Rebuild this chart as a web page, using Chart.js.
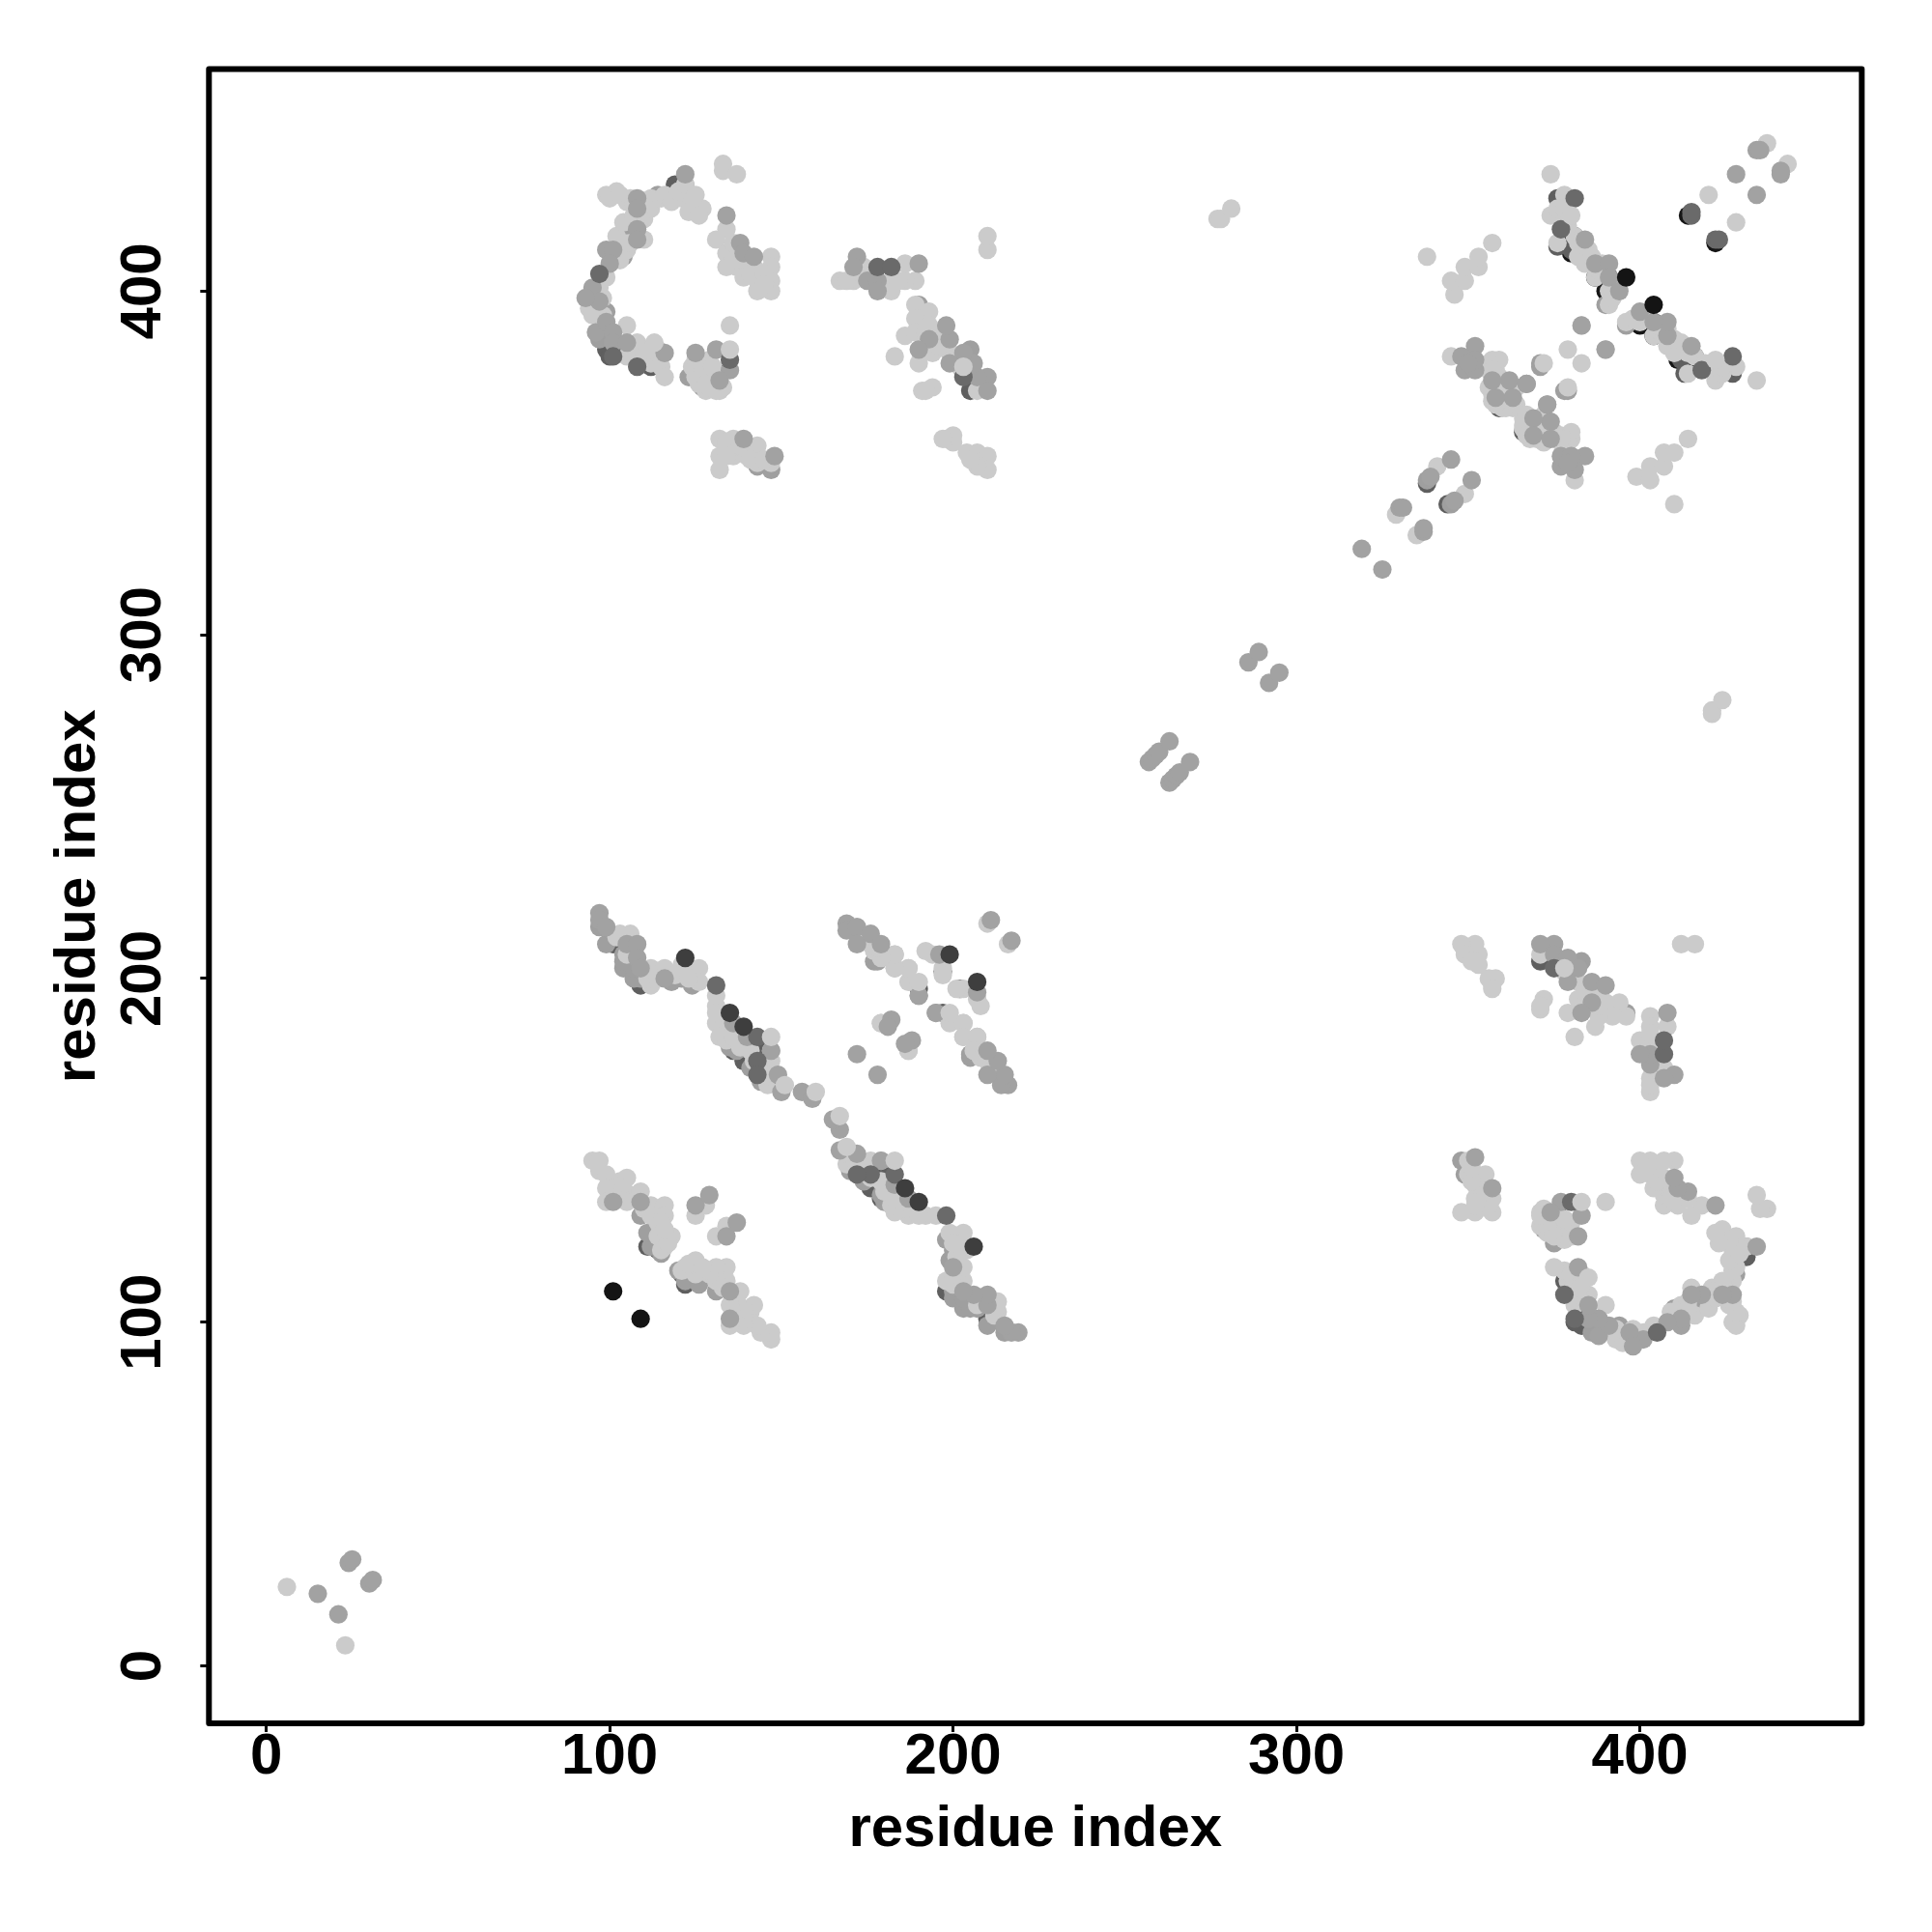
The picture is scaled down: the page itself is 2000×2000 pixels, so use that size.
<!DOCTYPE html>
<html>
<head>
<meta charset="utf-8">
<title>residue contact map</title>
<script src="https://cdn.jsdelivr.net/npm/chart.js@4"></script>
<style>
  html, body { margin: 0; padding: 0; background: #fff; }
  canvas { display: block; }
</style>
</head>
<body>
<canvas id="contactChart" width="2000" height="2000"></canvas>
<script>
const tickValues = [0, 100, 200, 300, 400];
const axisMin = -16.7;
const axisMax = 464.6;

const underBlack = [[380,415],[380,411],[387,408],[387,404],[391,404],[414,422],[390,400],[177,403]];
const underDark = [[376,427],[376,413],[380,412],[119,431],[99,383],[132,376],[137,355],[338,344],
  [361,368],[359,366],[358,372],[205,371],[197,202],[190,197],[109,198],[101,210],[139,176],[111,122],[114,121],[117,124],[381,416],[112,378],[112,381],
  [100,381],[104,383],[115,124],[136,179],[141,178],[138,182],[134,186],[143,180],[145,176]];
const underMid = [[122,431],[114,428],[125,376],[123,375],[124,376],[127,372],[143,349],[147,348],[338,345],[371,378],[379,371],
  [190,396],[195,190],[205,177],[143,350],[97,215],[99,210],[104,203],[109,200],[135,180],[121,200],[390,396],
  [178,205],[109,131],[112,122],[113,127],[115,120],[383,205],[104,207],[104,205],[107,200],[107,203],[113,201],[118,199],[124,198],
  [133,188],[137,179],[141,174],[144,170],[97,386],[99,394],[104,410],[106,416],[172,406],[111,126]];
const lightPts = [[6,23],[329,335],[341,349],[277,421],[278,421],[281,424],[210,412],[210,416],
  [345,381],[357,380],[359,380],[358,377],[357,375],[358,368],[360,367],[360,366],[372,379],[357,372],[359,375],[379,383],
  [356,379],[355,378],[356,377],[356,372],[357,370],[357,368],[359,369],[361,372],[362,371],[359,367],[361,366],[362,368],[363,366],[358,367],[361,370],[364,367],[364,372],[357,377],
  [338,410],[346,399],[345,403],[349,403],[349,407],[353,407],[353,410],[357,414],
  [378,428],[374,422],[376,424],[376,414],[381,416],[384,411],[384,408],[387,404],[391,400],[391,396],[374,434],[383,390],[420,428],[437,443],
  [378,420],[378,424],[379,419],[382,414],[382,410],[385,412],[386,410],[388,406],[390,405],[393,402],[392,398],[389,408],
  [99,428],[102,429],[100,427],[105,426],[103,428],[106,427],[109,426],[110,425],[107,425],[110,421],[110,415],[112,427],[112,424],[115,427],[116,428],[118,426],[121,427],[120,429],[122,431],[125,428],[125,425],[127,424],[124,426],[123,423],[126,422],[109,421],[105,412],[102,416],[104,420],[107,422],[106,414],[104,414],
  [133,437],[133,435],[137,434],[134,418],[131,415],[134,411],[134,407],[137,407],[140,408],[142,407],[139,404],[147,410],[147,407],[143,403],[147,403],[143,400],[147,400],[136,414],[136,409],[141,405],[145,405],[145,402],
  [105,390],[103,409],[99,404],[97,401],[94,395],[96,395],[95,393],[98,393],[97,392],[98,398],[105,381],[108,385],[108,382],[112,379],[115,378],[116,375],[114,380],[110,381],[111,383],[114,383],
  [126,378],[128,378],[126,375],[128,375],[130,372],[128,371],[132,371],[127,373],[124,378],[125,375],[126,373],[127,376],[129,375],[130,374],[131,376],[128,373],[129,372],[133,372],[131,371],[125,380],[129,380],[130,378],[135,390],
  [132,357],[132,352],[132,348],[136,357],[136,352],[140,354],[143,355],[140,352],[143,350],[147,350],[134,356],[138,355],[141,351],[145,351],[134,352],
  [198,357],[199,357],[200,356],[204,353],[207,353],[210,352],[208,349],[210,348],[200,358],[197,357],
  [207,349],[205,351],
  [189,403],[186,403],[186,408],[182,403],[182,400],[174,407],[171,403],[167,403],[169,403],[184,403],
  [199,382],[194,382],[194,385],[190,379],[183,381],[186,387],[189,396],[193,394],[189,392],[193,390],[189,388],[192,388],[194,372],[191,371],[192,371],[207,371],[196,388],[196,384],[202,378],
  [103,213],[106,213],[112,203],[112,198],[116,203],[121,202],[126,203],[126,199],[121,204],[111,200],[114,200],[119,201],[123,200],[105,207],[102,212],
  [131,192],[131,187],[131,195],[131,190],[133,185],[132,183],[134,182],[136,183],[138,180],[141,179],[142,176],[144,174],[147,176],[147,172],[146,169],[149,169],[148,171],[145,172],[147,179],
  [176,210],[174,211],[177,208],[183,207],[183,203],[187,203],[187,199],[197,203],[194,207],[197,201],[199,188],[203,187],[203,183],[207,183],[206,179],[179,187],[187,179],[210,216],[208,192],[209,178],
  [95,147],[97,147],[97,144],[99,143],[103,141],[105,142],[99,139],[101,139],[104,139],[106,137],[108,137],[109,138],[99,135],[105,135],[110,133],[112,134],[113,133],[116,134],[112,131],[116,131],[114,129],[114,125],[115,129],[116,122],[115,121],[118,125],[125,131],[128,134]];
const topMid = [[15,21],[24,30],[25,31],[257,263],[258,264],[259,265],[260,266],[263,269],[286,292],[289,295],[319,325],[330,337],[331,337],[339,346],[345,351],
  [352,384],[348,381],[349,377],[352,377],[352,380],[350,379],[362,374],[367,373],[363,369],[358,369],[357,374],[373,367],
  [384,415],[387,408],[391,408],[391,404],[394,400],[390,383],[428,434],[434,441],[435,441],
  [122,434],[108,427],[108,424],[108,418],[108,415],[99,412],[101,412],[100,408],[95,401],[97,397],[93,398],[96,388],[99,391],[101,388],[101,385],[105,385],[116,382],[125,382],[131,383],[135,377],[132,374],[134,422],[138,414],[139,411],[142,410],
  [139,357],[148,352],
  [190,408],[172,410],[171,407],[175,403],[178,403],[178,400],[210,375],[210,371],[207,375],[206,379],[203,382],[199,379],[199,386],[198,390],[193,386],[190,383],
  [97,219],[97,217],[99,215],[105,210],[108,210],[108,206],[109,203],[116,200],[136,187],[140,183],[147,179],[149,172],[150,167],[156,167],[159,165],
  [169,216],[169,214],[172,215],[172,210],[176,213],[179,210],[196,207],[211,217],[190,195],[182,188],[172,178],[186,181],
  [101,135],[109,135],[125,134],[129,137]];
const topDark = [[377,418],[415,422],[415,423],[97,405],[101,381],[108,378],[135,380],[178,407],[182,407],[203,375],[131,198],[143,183],[143,176],[143,172],[381,427]];
const topLight = [[380,422],[113,385],[135,383],[147,183],[151,169],[160,167],[190,199],[117,123],[116,127],[203,378]];
const topCharcoal = [[135,190],[139,186],[199,207],[122,206]];
const topBlack = [[101,109],[396,404]];

// bottom of the stack first
const layers = [
  { points: underBlack, color: '#161616' },
  { points: underDark, color: '#5f5f5f' },
  { points: underMid, color: '#9f9f9f' },
  { points: lightPts, color: '#cbcbcb' },
  { points: topMid, color: '#a2a2a2' },
  { points: topDark, color: '#6a6a6a' },
  { points: topLight, color: '#cbcbcb' },
  { points: topCharcoal, color: '#3e3e3e' },
  { points: topBlack, color: '#141414' }
];

function bothSides(points) {
  const out = [];
  points.forEach(function(p) {
    out.push({ x: p[0], y: p[1] });
    out.push({ x: p[1], y: p[0] });
  });
  return out;
}

const frameBox = {
  id: 'frameBox',
  afterDatasetsDraw: function(chart) {
    const a = chart.chartArea;
    const c = chart.ctx;
    c.save();
    c.strokeStyle = '#000';
    c.lineWidth = 6;
    c.lineJoin = 'round';
    c.strokeRect(a.left, a.top, a.right - a.left, a.bottom - a.top);
    c.restore();
  }
};

function axisOptions(pos, label) {
  const isY = pos === 'left';
  return {
    type: 'linear',
    position: pos,
    min: axisMin,
    max: axisMax,
    afterBuildTicks: function(axis) {
      axis.ticks = tickValues.map(function(v) { return { value: v }; });
    },
    afterFit: function(axis) {
      if (isY) axis.width = 216.3;
      else axis.height = 216;
    },
    grid: { drawOnChartArea: false, drawTicks: true, tickColor: '#000', tickWidth: 3, tickLength: 9 },
    border: { display: false },
    ticks: {
      color: '#000',
      padding: isY ? 8 : -9.5,
      autoSkip: false,
      crossAlign: isY ? 'center' : 'near',
      minRotation: isY ? 90 : 0,
      maxRotation: isY ? 90 : 0,
      font: { family: 'Liberation Sans', size: 60, weight: 'bold' }
    },
    title: {
      display: true,
      text: label,
      color: '#000',
      padding: isY ? { top: 45, bottom: 0 } : { top: 0, bottom: 70 },
      font: { family: 'Liberation Sans', size: 60, weight: 'bold' }
    }
  };
}

new Chart(document.getElementById('contactChart').getContext('2d'), {
  type: 'scatter',
  data: {
    datasets: layers.map(function(l, i) {
      return {
        data: bothSides(l.points),
        order: layers.length - i,
        backgroundColor: l.color,
        borderWidth: 0,
        pointRadius: 9.6,
        pointHoverRadius: 9.6
      };
    })
  },
  options: {
    responsive: false,
    animation: false,
    layout: { padding: { left: 0, right: 72.7, top: 71.5, bottom: 0 } },
    plugins: { legend: { display: false }, tooltip: { enabled: false } },
    scales: {
      x: axisOptions('bottom', 'residue index'),
      y: axisOptions('left', 'residue index')
    }
  },
  plugins: [frameBox]
});
</script>
</body>
</html>
